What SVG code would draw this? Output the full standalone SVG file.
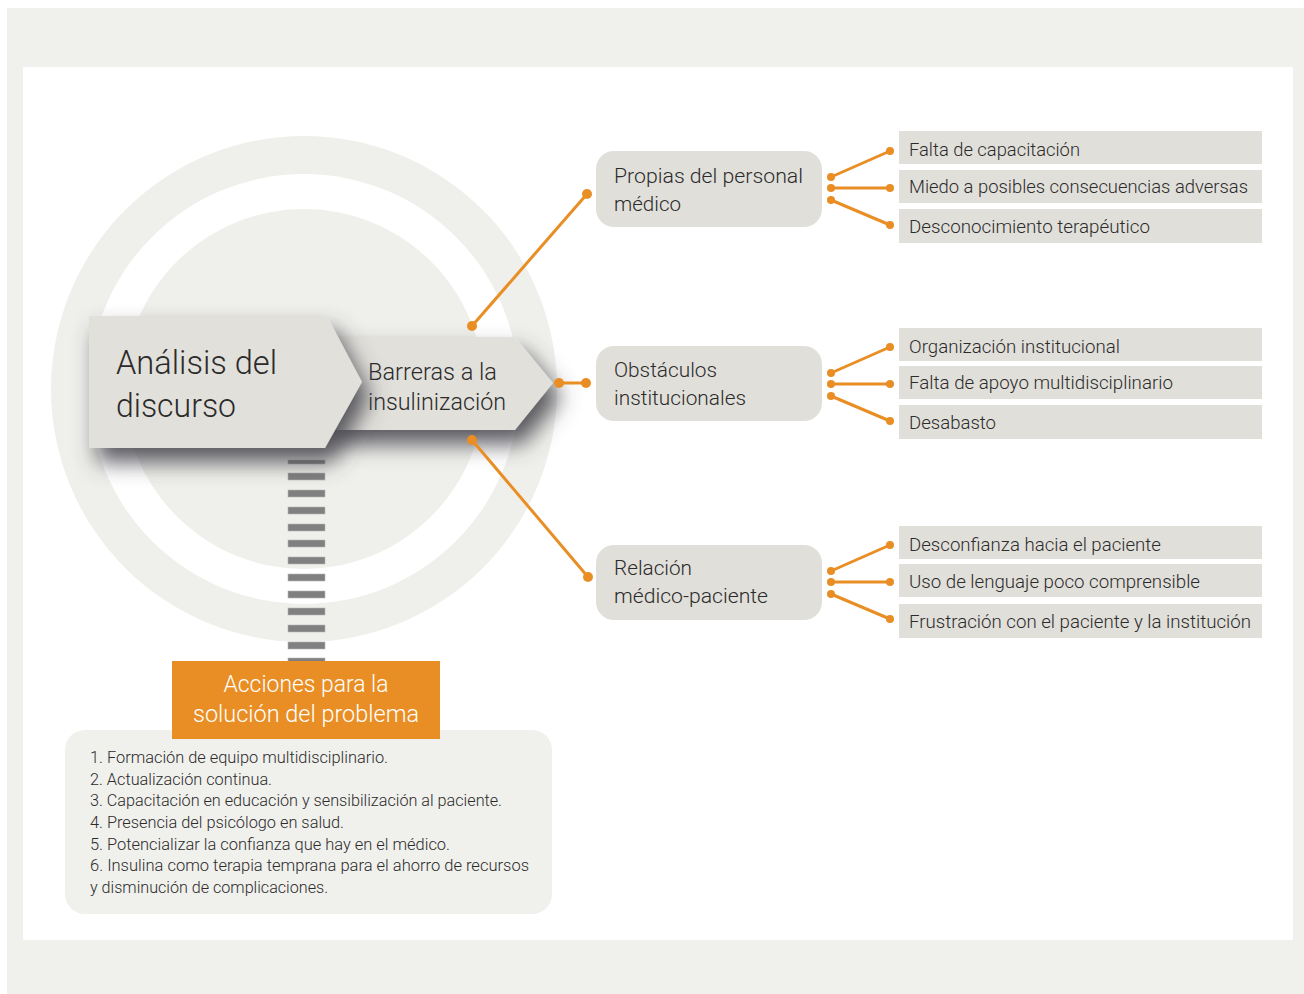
<svg xmlns="http://www.w3.org/2000/svg" width="1304" height="994" viewBox="0 0 1304 994">
<defs>
<style>
.t{font-family:Roboto,"Liberation Sans",sans-serif;fill:#2b2b2b;font-weight:300}
.box{fill:#e1dfda}
.rung{fill:#808080;stroke:#b5b5b5;stroke-width:0.6}
.con{stroke:#e98e24;stroke-width:3;fill:none;stroke-linecap:round}
.dot{fill:#e98e24}
</style>
<filter id="sh" x="-30%" y="-30%" width="170%" height="190%">
<feGaussianBlur in="SourceAlpha" stdDeviation="11"/>
<feOffset dx="8" dy="14" result="b"/>
<feFlood flood-color="#46464d" flood-opacity="0.9"/>
<feComposite in2="b" operator="in"/>
<feMerge><feMergeNode/><feMergeNode in="SourceGraphic"/></feMerge>
</filter>
</defs>
<rect x="7" y="8" width="1297" height="986" fill="#f0f0ec"/>
<rect x="23" y="67" width="1270" height="873" fill="#ffffff"/>

<g id="circles">
<circle cx="304" cy="389" r="253" fill="#efefeb"/>
<circle cx="304" cy="389" r="215" fill="#ffffff"/>
<circle cx="304" cy="389" r="180" fill="#efefeb"/>
</g>

<g id="ladder">
<rect class="rung" x="288" y="460" width="37" height="4"/>
<rect class="rung" x="288" y="473" width="37" height="7"/>
<rect class="rung" x="288" y="490" width="37" height="7"/>
<rect class="rung" x="288" y="507" width="37" height="7"/>
<rect class="rung" x="288" y="524" width="37" height="7"/>
<rect class="rung" x="288" y="540" width="37" height="7"/>
<rect class="rung" x="288" y="557" width="37" height="7"/>
<rect class="rung" x="288" y="574" width="37" height="7"/>
<rect class="rung" x="288" y="591" width="37" height="7"/>
<rect class="rung" x="288" y="608" width="37" height="7"/>
<rect class="rung" x="288" y="625" width="37" height="7"/>
<rect class="rung" x="288" y="642" width="37" height="7"/>
<rect class="rung" x="288" y="658" width="37" height="7"/>
</g>

<g id="list">
<rect x="65" y="730" width="487" height="184" rx="20" fill="#f0f0ec"/>
<g class="t" font-size="16">
<text x="90" y="763" textLength="298" lengthAdjust="spacingAndGlyphs">1. Formación de equipo multidisciplinario.</text>
<text x="90" y="785" textLength="182" lengthAdjust="spacingAndGlyphs">2. Actualización continua.</text>
<text x="90" y="806" textLength="412" lengthAdjust="spacingAndGlyphs">3. Capacitación en educación y sensibilización al paciente.</text>
<text x="90" y="828" textLength="254" lengthAdjust="spacingAndGlyphs">4. Presencia del psicólogo en salud.</text>
<text x="90" y="850" textLength="360" lengthAdjust="spacingAndGlyphs">5. Potencializar la confianza que hay en el médico.</text>
<text x="90" y="871" textLength="439" lengthAdjust="spacingAndGlyphs">6. Insulina como terapia temprana para el ahorro de recursos</text>
<text x="90" y="893" textLength="238" lengthAdjust="spacingAndGlyphs">y disminución de complicaciones.</text>
</g>
</g>

<g id="acciones">
<rect x="172" y="661" width="268" height="78" fill="#e98e24"/>
<text class="t" x="306" y="692" font-size="23" text-anchor="middle" style="fill:#ffffff" textLength="165" lengthAdjust="spacingAndGlyphs">Acciones para la</text>
<text class="t" x="306" y="722" font-size="23" text-anchor="middle" style="fill:#ffffff" textLength="226" lengthAdjust="spacingAndGlyphs">solución del problema</text>
</g>

<g id="barreras">
<polygon points="320,337 515,337 553,383 515,430 320,430" fill="#e2e0db" filter="url(#sh)"/>
<text class="t" x="368" y="380" font-size="24" textLength="129" lengthAdjust="spacingAndGlyphs">Barreras a la</text>
<text class="t" x="368" y="410" font-size="24" textLength="138" lengthAdjust="spacingAndGlyphs">insulinización</text>
</g>

<g id="analisis">
<polygon points="89,316 327,316 362,382 325,448 89,448" fill="#e2e0db" filter="url(#sh)"/>
<text class="t" x="116" y="374" font-size="34" textLength="161" lengthAdjust="spacingAndGlyphs">Análisis del</text>
<text class="t" x="116" y="417" font-size="34" textLength="120" lengthAdjust="spacingAndGlyphs">discurso</text>
</g>

<g id="propias">
<rect class="box" x="596" y="151" width="226" height="76" rx="18"/>
<text class="t" x="614" y="183" font-size="21" textLength="189" lengthAdjust="spacingAndGlyphs">Propias del personal</text>
<text class="t" x="614" y="211" font-size="21" textLength="67" lengthAdjust="spacingAndGlyphs">médico</text>
</g>
<g id="obstaculos">
<rect class="box" x="596" y="346" width="226" height="75" rx="18"/>
<text class="t" x="614" y="377" font-size="21" textLength="103" lengthAdjust="spacingAndGlyphs">Obstáculos</text>
<text class="t" x="614" y="405" font-size="21" textLength="132" lengthAdjust="spacingAndGlyphs">institucionales</text>
</g>
<g id="relacion">
<rect class="box" x="596" y="545" width="226" height="75" rx="18"/>
<text class="t" x="614" y="575" font-size="21" textLength="78" lengthAdjust="spacingAndGlyphs">Relación</text>
<text class="t" x="614" y="603" font-size="21" textLength="154" lengthAdjust="spacingAndGlyphs">médico-paciente</text>
</g>

<g id="items" font-size="18">
<g id="i1"><rect class="box" x="899" y="131" width="363" height="33"/><text class="t" x="909" y="156" textLength="171" lengthAdjust="spacingAndGlyphs">Falta de capacitación</text></g>
<g id="i2"><rect class="box" x="899" y="170" width="363" height="33"/><text class="t" x="909" y="193" textLength="339" lengthAdjust="spacingAndGlyphs">Miedo a posibles consecuencias adversas</text></g>
<g id="i3"><rect class="box" x="899" y="209" width="363" height="34"/><text class="t" x="909" y="233" textLength="241" lengthAdjust="spacingAndGlyphs">Desconocimiento terapéutico</text></g>
<g id="i4"><rect class="box" x="899" y="328" width="363" height="33"/><text class="t" x="909" y="353" textLength="211" lengthAdjust="spacingAndGlyphs">Organización institucional</text></g>
<g id="i5"><rect class="box" x="899" y="366" width="363" height="33"/><text class="t" x="909" y="389" textLength="264" lengthAdjust="spacingAndGlyphs">Falta de apoyo multidisciplinario</text></g>
<g id="i6"><rect class="box" x="899" y="405" width="363" height="34"/><text class="t" x="909" y="429" textLength="87" lengthAdjust="spacingAndGlyphs">Desabasto</text></g>
<g id="i7"><rect class="box" x="899" y="526" width="363" height="33"/><text class="t" x="909" y="551" textLength="252" lengthAdjust="spacingAndGlyphs">Desconfianza hacia el paciente</text></g>
<g id="i8"><rect class="box" x="899" y="564" width="363" height="33"/><text class="t" x="909" y="588" textLength="291" lengthAdjust="spacingAndGlyphs">Uso de lenguaje poco comprensible</text></g>
<g id="i9"><rect class="box" x="899" y="604" width="363" height="34"/><text class="t" x="909" y="628" textLength="342" lengthAdjust="spacingAndGlyphs">Frustración con el paciente y la institución</text></g>
</g>

<g id="connectors">
<line class="con" x1="472" y1="326" x2="587" y2="194"/>
<line class="con" x1="559" y1="383" x2="586" y2="383"/>
<line class="con" x1="472" y1="440" x2="588" y2="577"/>
<line class="con" x1="831" y1="177" x2="890" y2="151"/>
<line class="con" x1="831" y1="188" x2="890" y2="188"/>
<line class="con" x1="831" y1="200" x2="890" y2="225"/>
<line class="con" x1="831" y1="373" x2="890" y2="347"/>
<line class="con" x1="831" y1="384" x2="890" y2="384"/>
<line class="con" x1="831" y1="396" x2="890" y2="421"/>
<line class="con" x1="831" y1="571" x2="890" y2="545"/>
<line class="con" x1="831" y1="582" x2="890" y2="582"/>
<line class="con" x1="831" y1="594" x2="890" y2="619"/>
<g class="dot">
<circle cx="472" cy="326" r="5"/><circle cx="587" cy="194" r="5"/>
<circle cx="559" cy="383" r="5"/><circle cx="586" cy="383" r="5"/>
<circle cx="472" cy="440" r="5"/><circle cx="588" cy="577" r="5"/>
<circle cx="831" cy="177" r="4"/><circle cx="831" cy="188" r="4"/><circle cx="831" cy="200" r="4"/>
<circle cx="890" cy="151" r="4"/><circle cx="890" cy="188" r="4"/><circle cx="890" cy="225" r="4"/>
<circle cx="831" cy="373" r="4"/><circle cx="831" cy="384" r="4"/><circle cx="831" cy="396" r="4"/>
<circle cx="890" cy="347" r="4"/><circle cx="890" cy="384" r="4"/><circle cx="890" cy="421" r="4"/>
<circle cx="831" cy="571" r="4"/><circle cx="831" cy="582" r="4"/><circle cx="831" cy="594" r="4"/>
<circle cx="890" cy="545" r="4"/><circle cx="890" cy="582" r="4"/><circle cx="890" cy="619" r="4"/>
</g>
</g>
</svg>
